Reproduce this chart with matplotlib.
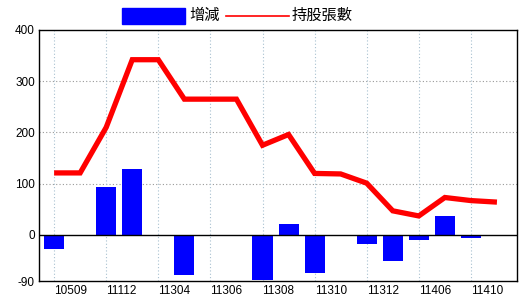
import matplotlib
matplotlib.use("Agg")
import matplotlib.pyplot as plt
from matplotlib.patches import Rectangle
from matplotlib.lines import Line2D
from matplotlib.transforms import ScaledTranslation

plt.rcParams['font.family'] = ['Liberation Sans', 'Noto Sans CJK TC', 'DejaVu Sans']

categories = ['10509', '11110', '11112', '11302', '11304', '11305', '11306', '11307', '11308',
              '11309', '11310', '11311', '11312', '11403', '11406', '11408', '11410', '11411']
holdings = [121, 121, 210, 342, 342, 265, 265, 265, 175, 196, 120, 119, 101, 47, 37, 73, 67, 64]
changes = [-28, 0, 94, 129, 0, -78, 0, 0, -89, 22, -74, 0, -17, -50, -9, 37, -7, 0]
yticks = [400, 300, 200, 100, 0, -90]
legend_labels = ['增減', '持股張數']

fig = plt.figure(figsize=(5.2, 3.0), dpi=100)
ax = fig.add_axes([39/520, 1 - 281/300, (517-39)/520, (281-30)/300])

x = list(range(len(categories)))
ax.bar(x, changes, width=0.77, color='#0000ff', zorder=2)
ax.plot(x, holdings, color='#ff0000', lw=3.8, zorder=3, solid_capstyle='butt', solid_joinstyle='miter')
ax.axhline(0, color='black', lw=1.0, zorder=2.5)

ax.set_xlim(-0.58, len(categories) - 1 + 0.77)
ax.set_ylim(-90, 400)
ax.set_yticks(yticks)
ax.set_yticklabels([str(v) for v in yticks], fontsize=8.5)
tick_idx = x[::2]
ax.set_xticks(tick_idx)
ax.set_xticklabels([categories[i] for i in tick_idx], fontsize=8.5, ha='left')
off = ScaledTranslation(2/100, 0, fig.dpi_scale_trans)
for lab in ax.get_xticklabels():
    lab.set_transform(lab.get_transform() + off)
ax.tick_params(axis='both', length=0, pad=3)

for v in [100, 200, 300]:
    ax.axhline(v, color='#999999', lw=0.8, ls=(0, (1, 2)), zorder=1)
for i in tick_idx:
    ax.axvline(i, color='#a8c0d0', lw=0.8, ls=(0, (1, 2)), zorder=1)

for s in ax.spines.values():
    s.set_color('black')
    s.set_linewidth(1.0)

# legend
fig.patches.append(Rectangle((122/520, 1 - 24/300), 63/520, 16/300, transform=fig.transFigure,
                             color='#0000ff'))
fig.text(189/520, 1 - 16/300, legend_labels[0], fontsize=11, va='center', ha='left')
fig.lines.append(Line2D([226/520, 289/520], [1 - 16/300, 1 - 16/300], transform=fig.transFigure,
                        color='#ff0000', lw=1.2))
fig.text(292/520, 1 - 16/300, legend_labels[1], fontsize=11, va='center', ha='left')

fig.savefig('out.png', dpi=100)
